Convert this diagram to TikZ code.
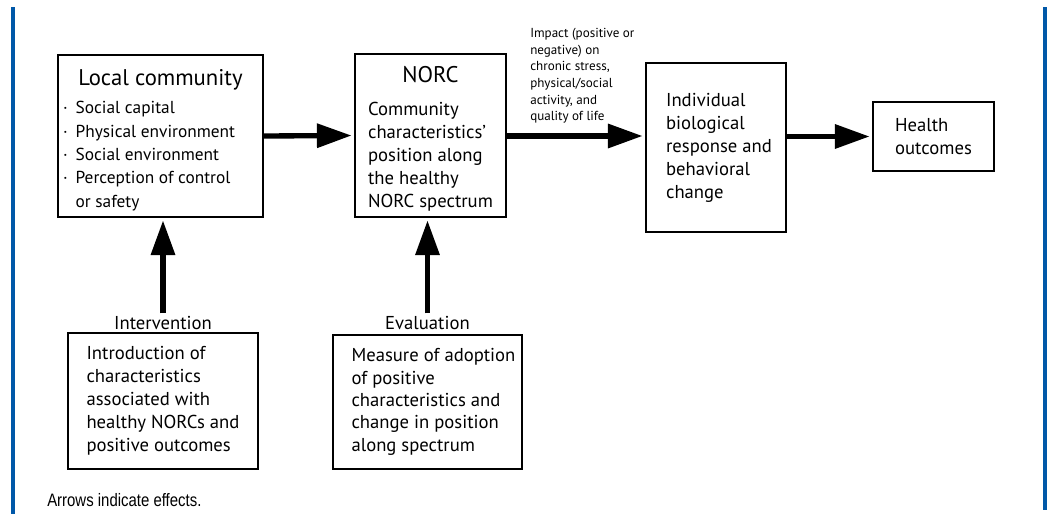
\documentclass[tikz,border=0pt]{standalone}
\usepackage{fontspec}
\setmainfont{PT Sans}
\newfontfamily\condfont[FakeStretch=0.83]{Liberation Sans}
\usetikzlibrary{arrows.meta}
\definecolor{frameblue}{RGB}{0,88,168}

\begin{document}
\begin{tikzpicture}[x=0.75pt,y=0.75pt,yscale=-1,xscale=1,
  box/.style={draw=black, line width=1.1pt, inner sep=0pt, font=\fontsize{14}{17.25}\selectfont},
  caption/.style={inner sep=2pt, font=\fontsize{14}{16}\selectfont},
  bigarrow/.style={line width=4pt, -{Triangle[length=26pt,width=17.5pt]}, shorten >=2pt},
  frameline/.style={draw=frameblue, line width=2.3pt}]

\useasboundingbox (0,0) rectangle (1050,514);

% blue frame lines
\draw[frameline] (13,7) -- (13,514);
\draw[frameline] (1045,7) -- (1045,510);

% top row
\node[box, font=\fontsize{13}{17.5}\selectfont, minimum width=153.75pt, minimum height=121.5pt] (local) at (160.5,136) {\begin{tabular}{@{}p{146.25pt}@{}}\multicolumn{1}{@{}c@{}}{\rule{0pt}{21.1pt}\fontsize{17}{18}\selectfont Local community}\\[3.5pt] ·\hspace{6pt}Social capital\\ ·\hspace{6pt}Physical environment\\ ·\hspace{6pt}Social environment\\ ·\hspace{6pt}Perception of control\\ \phantom{·}\hspace{6pt}or safety\end{tabular}};
\node[box, minimum width=113.25pt, minimum height=122.25pt] (norc) at (430.5,135.5) {\begin{tabular}{@{}l@{}}\multicolumn{1}{@{}c@{}}{\rule{0pt}{19.6pt}\fontsize{17}{18}\selectfont NORC}\\[7.5pt] Community\\ characteristics’\\ position along\\ the healthy\\ NORC spectrum\end{tabular}};
\node[box, align=left, minimum width=105pt, minimum height=126.75pt] (indiv) at (716,147.5) {Individual\\biological\\response and\kern-4.5pt\\behavioral\\change};
\node[box, align=left, minimum width=90.75pt, minimum height=51.75pt] (health) at (933.5,136.5) {Health\\outcomes};

\node[anchor=north west, align=left, inner sep=0pt, font=\fontsize{9.8}{12.5}\selectfont] (impact) at (530,28) {Impact (positive or\\negative) on\\chronic stress,\\physical/social\\activity, and\\quality of life};

% bottom row
\node[caption] (intervlabel) at (163,323) {Intervention};
\node[box, align=left, minimum width=142.5pt, minimum height=102pt] (interv) at (163,401) {Introduction of\\characteristics\\associated with\\healthy NORCs and\\positive outcomes};
\node[caption] (evallabel) at (427.5,323) {Evaluation};
\node[box, align=left, font=\fontsize{14}{16.75}\selectfont, minimum width=141.75pt, minimum height=100.5pt] (eval) at (427.5,402) {Measure of adoption\kern-9pt\\of positive\\characteristics and\\change in position\\along spectrum};

\node[anchor=west, inner sep=0pt, font=\condfont\fontsize{13.5}{15}\selectfont] (note) at (47,500) {Arrows indicate effects.};

% arrows
\draw[bigarrow] (local.east) -- (norc.west);
\draw[bigarrow] (norc.east |- local.east) -- (local.east -| indiv.west);
\draw[bigarrow] (indiv.east |- health.west) -- (health.west);
\draw[bigarrow] (intervlabel.north) -- (intervlabel.north |- local.south);
\draw[bigarrow] (evallabel.north) -- (evallabel.north |- norc.south);

\end{tikzpicture}
\end{document}
